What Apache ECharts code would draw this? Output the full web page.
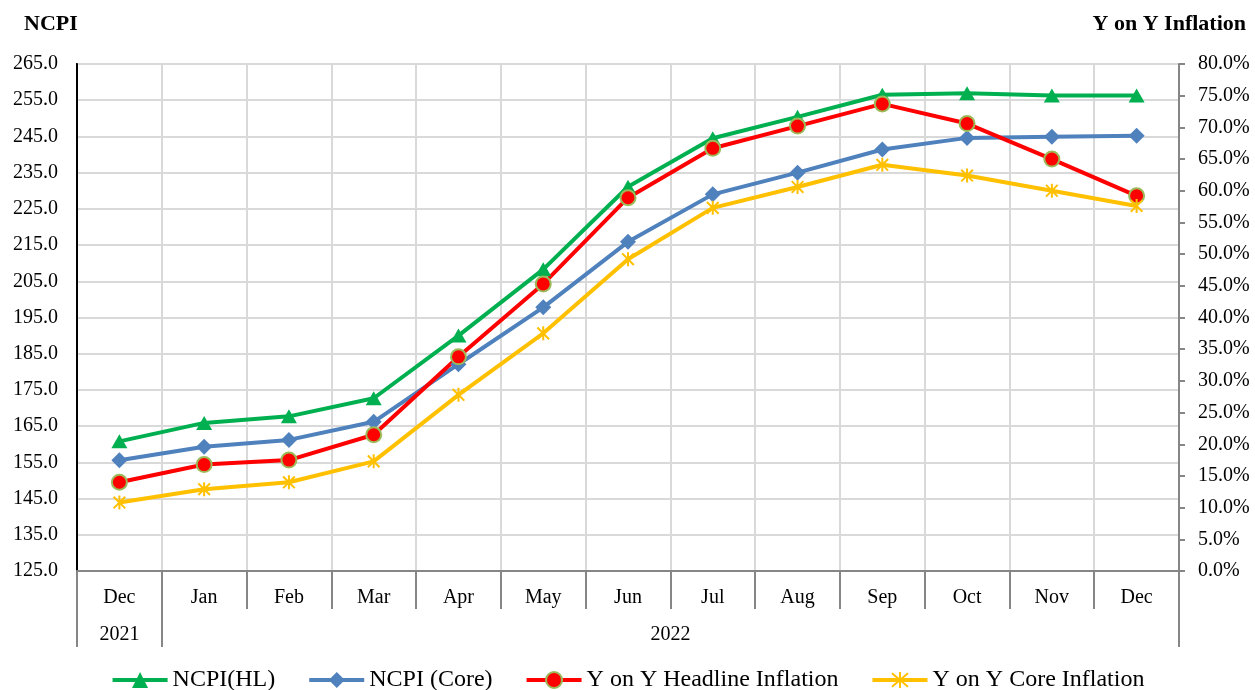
<!DOCTYPE html>
<html>
<head>
<meta charset="utf-8">
<script src="https://cdn.jsdelivr.net/npm/echarts@6/dist/echarts.min.js"></script>
<style>html,body{margin:0;padding:0;background:#fff}#c{width:1255px;height:690px}</style>
</head>
<body>
<div id="c"></div>
<script>
const categories = ['Dec','Jan','Feb','Mar','Apr','May','Jun','Jul','Aug','Sep','Oct','Nov','Dec'];
const yearLabels = ['2021','2022'];
const yearStart = [0, 1];
const yearEnd = [0, 12];
const ncpiHL = [160.8, 165.9, 167.7, 172.7, 190.0, 208.3, 231.1, 244.5, 250.4, 256.5, 256.9, 256.3, 256.3];
const ncpiCore = [155.6, 159.3, 161.2, 166.2, 182.1, 197.8, 215.9, 229.0, 235.0, 241.4, 244.6, 244.9, 245.2];
const yoyHeadline = [14.0, 16.8, 17.5, 21.5, 33.8, 45.3, 58.9, 66.7, 70.2, 73.7, 70.6, 65.0, 59.2];
const yoyCore = [10.8, 12.9, 14.0, 17.3, 27.8, 37.5, 49.2, 57.3, 60.6, 64.1, 62.4, 60.0, 57.6];
const seriesNames = ['NCPI(HL)', 'NCPI (Core)', 'Y on Y Headline Inflation', 'Y on Y Core Inflation'];

const FONT = 'Liberation Serif';
const chart = echarts.init(document.getElementById('c'), null, {renderer: 'canvas'});
const star = 'path://M0,0 L10,10 M10,0 L0,10 M5,-1 L5,11';

chart.setOption({
  animation: false,
  textStyle: {fontFamily: FONT},
  title: [
    {text: 'NCPI', left: 19, top: 8, textStyle: {fontFamily: FONT, fontSize: 22, fontWeight: 'bold', color: '#000'}},
    {text: 'Y on Y Inflation', right: 4, top: 8, textStyle: {fontFamily: FONT, fontSize: 22, fontWeight: 'bold', color: '#000'}}
  ],
  grid: {left: 77, right: 76, top: 64, bottom: 119, show: true, borderColor: '#000', borderWidth: 2, backgroundColor: 'transparent'},
  legend: {
    left: 'center', top: 663, itemWidth: 55, itemHeight: 20, itemGap: 32,
    textStyle: {fontFamily: FONT, fontSize: 24, color: '#000'},
    lineStyle: {width: 4},
    data: seriesNames
  },
  xAxis: {
    type: 'category', data: categories, boundaryGap: true,
    axisLine: {lineStyle: {color: '#868686', width: 2}},
    axisTick: {show: true, interval: 0, length: 38, lineStyle: {color: '#868686', width: 2}},
    axisLabel: {interval: 0, margin: 17, fontSize: 20, color: '#000', fontFamily: FONT},
    splitLine: {show: true, interval: 0, lineStyle: {color: '#d9d9d9', width: 2}}
  },
  yAxis: [
    {
      type: 'value', min: 125, max: 265, interval: 10, position: 'left',
      axisLine: {show: true, lineStyle: {color: '#000', width: 2}},
      axisTick: {show: false},
      axisLabel: {margin: 19, fontSize: 20, color: '#000', fontFamily: FONT, formatter: v => v.toFixed(1)},
      splitLine: {show: true, lineStyle: {color: '#d9d9d9', width: 2}}
    },
    {
      type: 'value', min: 0, max: 80, interval: 5, position: 'right',
      axisLine: {show: true, lineStyle: {color: '#868686', width: 2}},
      axisTick: {show: true, inside: false, length: 6, lineStyle: {color: '#868686', width: 2}},
      axisLabel: {margin: 19, fontSize: 20, color: '#000', fontFamily: FONT, formatter: v => v.toFixed(1) + '%'},
      splitLine: {show: false}
    }
  ],
  series: [
    {name: seriesNames[0], type: 'line', yAxisIndex: 0, data: ncpiHL, symbol: 'triangle', symbolSize: [16, 14],
      lineStyle: {color: '#00b050', width: 4}, itemStyle: {color: '#00b050'}},
    {name: seriesNames[1], type: 'line', yAxisIndex: 0, data: ncpiCore, symbol: 'diamond', symbolSize: [16, 16],
      lineStyle: {color: '#4f81bd', width: 4}, itemStyle: {color: '#4f81bd'}},
    {name: seriesNames[2], type: 'line', yAxisIndex: 1, data: yoyHeadline, symbol: 'circle', symbolSize: 15,
      lineStyle: {color: '#ff0000', width: 4}, itemStyle: {color: '#ff0000', borderColor: '#9bbb59', borderWidth: 2}},
    {name: seriesNames[3], type: 'line', yAxisIndex: 1, data: yoyCore, symbol: star, symbolSize: 14, symbolKeepAspect: true,
      lineStyle: {color: '#ffc000', width: 4}, itemStyle: {color: 'rgba(0,0,0,0)', borderColor: '#ffc000', borderWidth: 2}}
  ]
});

// Year row beneath the month labels
const px = i => chart.convertToPixel({xAxisIndex: 0}, i);
const yBase = chart.convertToPixel({yAxisIndex: 0}, 125);
const step = px(1) - px(0);
const graphics = [];
const bounds = new Set();
yearLabels.forEach((lab, k) => {
  const x0 = px(yearStart[k]) - step / 2;
  const x1 = px(yearEnd[k]) + step / 2;
  bounds.add(Math.round(x0)); bounds.add(Math.round(x1));
  graphics.push({type: 'text', x: (x0 + x1) / 2, y: yBase + 64,
    style: {text: lab, font: '20px "' + FONT + '"', fill: '#000', textAlign: 'center', textVerticalAlign: 'middle'}});
});
bounds.forEach(x => {
  graphics.push({type: 'line', shape: {x1: x, y1: yBase, x2: x, y2: yBase + 76},
    style: {stroke: '#868686', lineWidth: 2}});
});
chart.setOption({graphic: graphics});
</script>
</body>
</html>
